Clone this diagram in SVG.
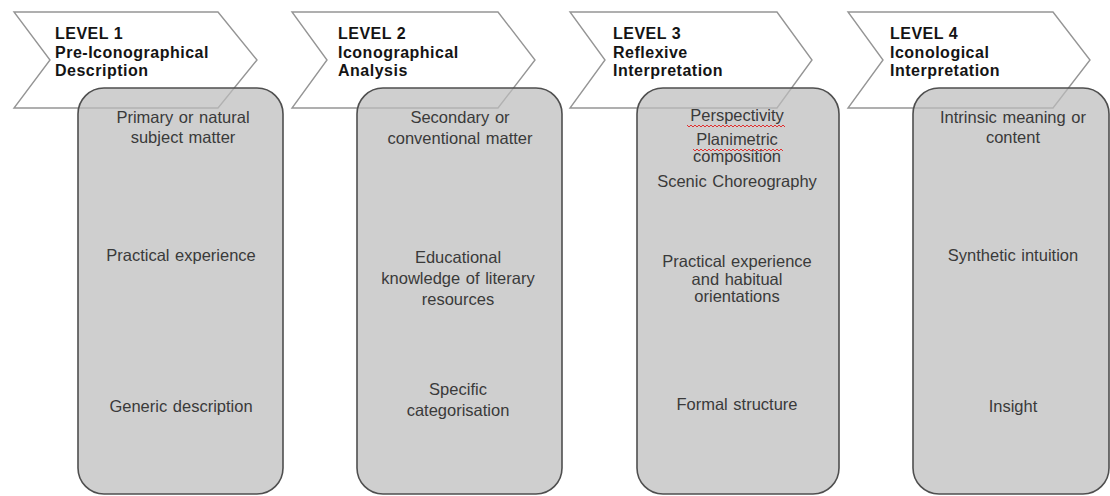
<svg xmlns="http://www.w3.org/2000/svg" width="1110" height="496" viewBox="0 0 1110 496">
  <style>
    .chev { fill: #ffffff; stroke: #959595; stroke-width: 1.4; }
    .box { fill: #bdbdbd; fill-opacity: 0.72; stroke: #4f4f4f; stroke-width: 1.6; }
    .title { font-family: "Liberation Sans", Arial, sans-serif; font-weight: bold; font-size: 16px; letter-spacing: 0.5px; fill: #141414; }
    .body { font-family: "Liberation Sans", Arial, sans-serif; font-size: 16.5px; fill: #3a3a3a; text-anchor: middle; word-spacing: 1px; }
    .spell { fill: none; stroke: #e03030; stroke-width: 1; }
  </style>
  <rect width="1110" height="496" fill="#ffffff"/>

  <!-- Level 1 -->
  <g id="level1">
    <polygon class="chev" points="14,12 218,12 257,60 218,108 14,108 50,60"/>
    <text class="title" x="55" y="39">LEVEL 1</text>
    <text class="title" x="55" y="57.5">Pre-Iconographical</text>
    <text class="title" x="55" y="76">Description</text>
    <rect class="box" x="78" y="88" width="205" height="406" rx="26"/>
    <text class="body" x="183" y="123">Primary or natural</text>
    <text class="body" x="183" y="143">subject matter</text>
    <text class="body" x="181" y="261">Practical experience</text>
    <text class="body" x="181" y="412">Generic description</text>
  </g>

  <!-- Level 2 -->
  <g id="level2">
    <polygon class="chev" points="292,12 498,12 535,60 498,108 292,108 327,60"/>
    <text class="title" x="338" y="39">LEVEL 2</text>
    <text class="title" x="338" y="57.5">Iconographical</text>
    <text class="title" x="338" y="76">Analysis</text>
    <rect class="box" x="357" y="88" width="205" height="406" rx="26"/>
    <text class="body" x="460" y="123">Secondary or</text>
    <text class="body" x="460" y="144">conventional matter</text>
    <text class="body" x="458" y="263">Educational</text>
    <text class="body" x="458" y="284">knowledge of literary</text>
    <text class="body" x="458" y="305">resources</text>
    <text class="body" x="458" y="395">Specific</text>
    <text class="body" x="458" y="416">categorisation</text>
  </g>

  <!-- Level 3 -->
  <g id="level3">
    <polygon class="chev" points="570,12 777,12 812,60 777,108 570,108 605,60"/>
    <text class="title" x="613" y="39">LEVEL 3</text>
    <text class="title" x="613" y="57.5">Reflexive</text>
    <text class="title" x="613" y="76">Interpretation</text>
    <rect class="box" x="637" y="88" width="202" height="406" rx="26"/>
    <text class="body" x="737" y="121">Perspectivity</text>
    <path class="spell" d="M687,125 l2,2 l2,-2 l2,2 l2,-2 l2,2 l2,-2 l2,2 l2,-2 l2,2 l2,-2 l2,2 l2,-2 l2,2 l2,-2 l2,2 l2,-2 l2,2 l2,-2 l2,2 l2,-2 l2,2 l2,-2 l2,2 l2,-2 l2,2 l2,-2 l2,2 l2,-2 l2,2 l2,-2 l2,2 l2,-2 l2,2 l2,-2 l2,2 l2,-2 l2,2 l2,-2 l2,2 l2,-2 l2,2 l2,-2 l2,2 l2,-2 l2,2 l2,-2 l2,2 l2,-2 l2,2"/>
    <text class="body" x="737" y="145">Planimetric</text>
    <path class="spell" d="M693,149 l2,2 l2,-2 l2,2 l2,-2 l2,2 l2,-2 l2,2 l2,-2 l2,2 l2,-2 l2,2 l2,-2 l2,2 l2,-2 l2,2 l2,-2 l2,2 l2,-2 l2,2 l2,-2 l2,2 l2,-2 l2,2 l2,-2 l2,2 l2,-2 l2,2 l2,-2 l2,2 l2,-2 l2,2 l2,-2 l2,2 l2,-2 l2,2 l2,-2 l2,2 l2,-2 l2,2 l2,-2 l2,2 l2,-2 l2,2 l2,-2 l2,2"/>
    <text class="body" x="737" y="162">composition</text>
    <text class="body" x="737" y="187">Scenic Choreography</text>
    <text class="body" x="737" y="267">Practical experience</text>
    <text class="body" x="737" y="285">and habitual</text>
    <text class="body" x="737" y="302">orientations</text>
    <text class="body" x="737" y="410">Formal structure</text>
  </g>

  <!-- Level 4 -->
  <g id="level4">
    <polygon class="chev" points="848,12 1053,12 1090,60 1053,108 848,108 883,60"/>
    <text class="title" x="890" y="39">LEVEL 4</text>
    <text class="title" x="890" y="57.5">Iconological</text>
    <text class="title" x="890" y="76">Interpretation</text>
    <rect class="box" x="913" y="88" width="196" height="406" rx="26"/>
    <text class="body" x="1013" y="123">Intrinsic meaning or</text>
    <text class="body" x="1013" y="143">content</text>
    <text class="body" x="1013" y="261">Synthetic intuition</text>
    <text class="body" x="1013" y="412">Insight</text>
  </g>

  <g id="connectors"></g>
</svg>
